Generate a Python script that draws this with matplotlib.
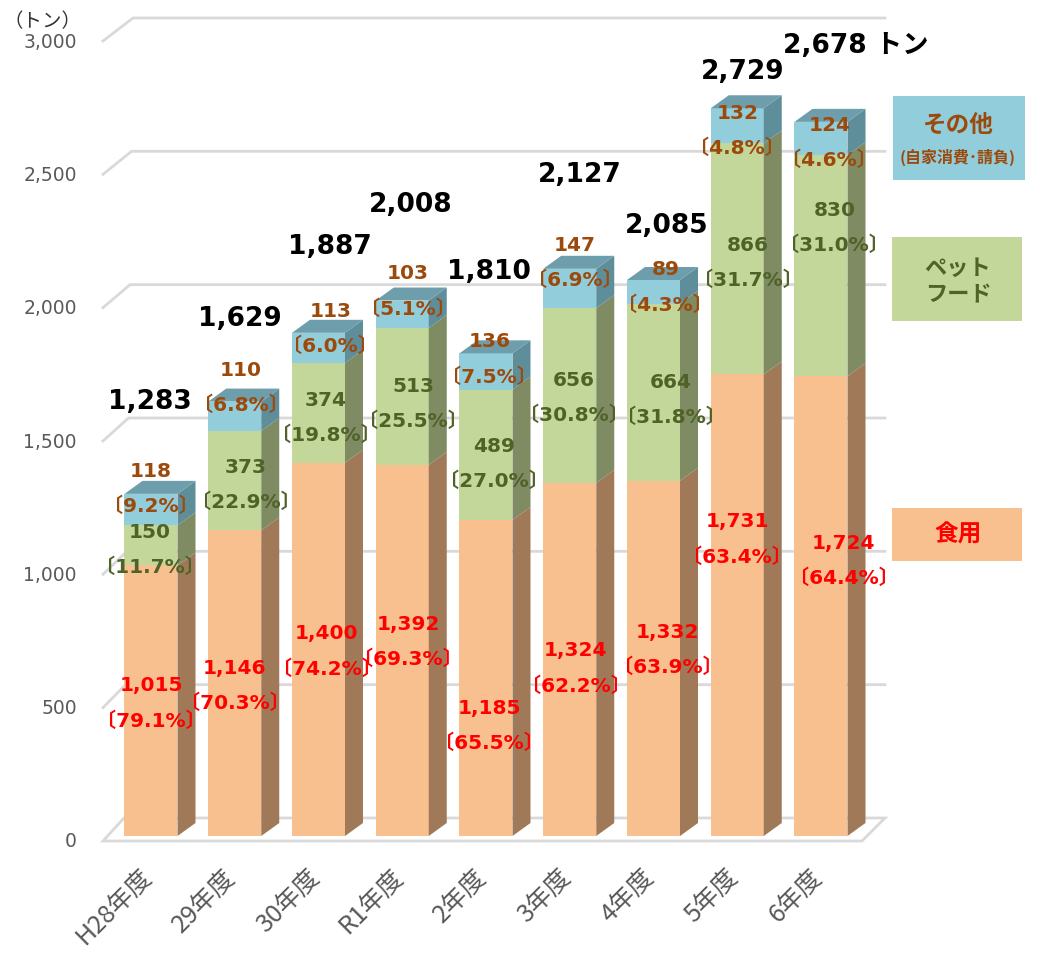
import matplotlib
matplotlib.use('Agg')
import matplotlib.pyplot as plt
from matplotlib.patches import Polygon, Rectangle

# ---- data (トン) ----
years = ['H28年度', '29年度', '30年度', 'R1年度', '2年度', '3年度', '4年度', '5年度', '6年度']
food = [1015, 1146, 1400, 1392, 1185, 1324, 1332, 1731, 1724]
pet = [150, 373, 374, 513, 489, 656, 664, 866, 830]
other = [118, 110, 113, 103, 136, 147, 89, 132, 124]
totals = [1283, 1629, 1887, 2008, 1810, 2127, 2085, 2729, 2678]
food_pct = [79.1, 70.3, 74.2, 69.3, 65.5, 62.2, 63.9, 63.4, 64.4]
pet_pct = [11.7, 22.9, 19.8, 25.5, 27.0, 30.8, 31.8, 31.7, 31.0]
other_pct = [9.2, 6.8, 6.0, 5.1, 7.5, 6.9, 4.3, 4.8, 4.6]
yticks = [0, 500, 1000, 1500, 2000, 2500, 3000]

# hand placed data labels (centre of the 2 lines, in トン) and sideways shift
food_lab_y = [501, 568, 696, 733, 416, 632, 701, 1116, 1035]
pet_lab_y = [1078, 1320, 1571, 1624, 1399, 1646, 1639, 2153, 2284]
oth_lab_y = [1305, 1684, 1905, 2046, 1791, 2154, 2061, 2649, 2603]
tot_lab_y = [1631, 1942, 2212, 2370, 2119, 2482, 2291, 2869, 2966]
food_dx = [0, 0, .10, .07, .04, .07, .17, 0, .27]
pet_dx = [-.01, .13, .09, .13, .10, .05, .21, .13, .16]
oth_dx = [0, .07, .14, .07, .04, .06, .14, 0, .10]
tot_dx = [-.01, .06, .14, .10, .04, .12, .16, .07, .41]

# colours
c_food, c_food_s = '#F9C08F', '#A07A58'
c_pet, c_pet_s = '#C4D79B', '#7F8B63'
c_oth, c_oth_s, c_oth_t = '#92CDDC', '#5F8E9B', '#6E9DAB'
t_food, t_pet, t_oth = '#FF0000', '#4F6228', '#9C4A0C'
grid_c = '#D9D9D9'
tick_c = '#595959'

NUMF = ['DejaVu Sans', 'Noto Sans CJK JP']
JPF = ['Noto Sans CJK JP', 'DejaVu Sans']

W, H = 1040, 954
fig = plt.figure(figsize=(W / 100, H / 100), dpi=100)
ax = fig.add_axes([0, 0, 1, 1])
X0, XS = 151, 83.75          # pixel of first bar centre, pixels per category
Y0, YS = 837, 800 / 3000     # pixel of bar base, pixels per トン
ax.set_xlim(-X0 / XS, (W - X0) / XS)
ax.set_ylim(-(H - Y0) / YS, Y0 / YS)
ax.axis('off')


def px(p):
    return p / XS


def py(p):
    return p / YS


hw = px(26.5)
ddx, ddy = px(18), py(13)

# walls: front plane sits a bit lower/left, back wall higher/right
front_x = px(103 - X0)
front_dy = -py(5)
back_dy = py(18)
right_x = px(885 - X0)

for v in yticks:
    fy = v + front_dy
    by = v + back_dy
    bx = front_x + px(21 + 9 * v / 3000)
    if v == 0:
        floor = Polygon([(front_x, fy), (px(862 - X0), fy), (right_x, by), (bx, by)],
                        closed=True, facecolor='white', edgecolor=grid_c, lw=2, zorder=1)
        ax.add_patch(floor)
    else:
        ax.plot([front_x, bx, right_x], [fy, by, by], color=grid_c, lw=2, zorder=1)
    ax.text(px(77 - X0), fy, f'{v:,}', ha='right', va='center', color=tick_c,
            fontsize=13.5, family=NUMF)

ax.text(px(82 - X0), 3000 + py(15), '（トン）', ha='right', va='center', color='#333333',
        fontsize=14, family=JPF)


def box3d(x, b, t, front, side, top=None):
    ax.add_patch(Rectangle((x - hw, b), 2 * hw, t - b, facecolor=front, edgecolor='none', zorder=3))
    ax.add_patch(Polygon([(x + hw, b), (x + hw + ddx, b + ddy), (x + hw + ddx, t + ddy), (x + hw, t)],
                         closed=True, facecolor=side, edgecolor='none', zorder=3))
    if top is not None:
        ax.add_patch(Polygon([(x - hw, t), (x + hw, t), (x + hw + ddx, t + ddy), (x - hw + ddx, t + ddy)],
                             closed=True, facecolor=top, edgecolor='none', zorder=3))


for i in range(len(years)):
    b1 = food[i]
    b2 = food[i] + pet[i]
    b3 = b2 + other[i]
    box3d(i, 0, b1, c_food, c_food_s)
    box3d(i, b1, b2, c_pet, c_pet_s)
    box3d(i, b2, b3, c_oth, c_oth_s, c_oth_t)

    half = py(17.5)
    for val, pct, yc, dx, col in [(food[i], food_pct[i], food_lab_y[i], food_dx[i], t_food),
                                  (pet[i], pet_pct[i], pet_lab_y[i], pet_dx[i], t_pet),
                                  (other[i], other_pct[i], oth_lab_y[i], oth_dx[i], t_oth)]:
        ax.text(i + dx, yc + half, f'{val:,}', ha='center', va='center', color=col,
                fontsize=14.5, fontweight='bold', family=NUMF, zorder=5)
        ax.text(i + dx, yc - half, f'〔{pct:.1f}%〕', ha='center', va='center', color=col,
                fontsize=14.5, fontweight='bold', family=NUMF, zorder=5)

    lab = f'{totals[i]:,}'
    if i == len(years) - 1:
        lab += ' トン'
    ax.text(i + tot_dx[i], tot_lab_y[i], lab, ha='center', va='center', color='black',
            fontsize=19, fontweight='bold', family=NUMF, zorder=5)

    ax.text(i + px(6), -py(27), years[i], rotation=45, ha='right', va='top', color=tick_c,
            fontsize=18, family=JPF)

# legend boxes on the right
legend = [((893, 97, 132, 84), c_oth), ((892, 238, 130, 84), c_pet), ((892, 509, 130, 53), c_food)]
for (x, y, w, h), col in legend:
    fig.add_artist(Rectangle((x / W, 1 - (y + h) / H), w / W, h / H, transform=fig.transFigure,
                             facecolor=col, edgecolor='none'))

fig.text(958 / W, 1 - 125 / H, 'その他', ha='center', va='center', color=t_oth,
         fontsize=17, fontweight='bold', family=JPF)
fig.text(958 / W, 1 - 157 / H, '(自家消費･請負)', ha='center', va='center', color=t_oth,
         fontsize=11.5, fontweight='bold', family=JPF)
fig.text(958 / W, 1 - 282 / H, 'ペット\nフード', ha='center', va='center', color=t_pet,
         fontsize=16, fontweight='bold', family=JPF, linespacing=1.2)
fig.text(958 / W, 1 - 535 / H, '食用', ha='center', va='center', color=t_food,
         fontsize=17, fontweight='bold', family=JPF)

fig.savefig('out.png', dpi=100, facecolor='white')
